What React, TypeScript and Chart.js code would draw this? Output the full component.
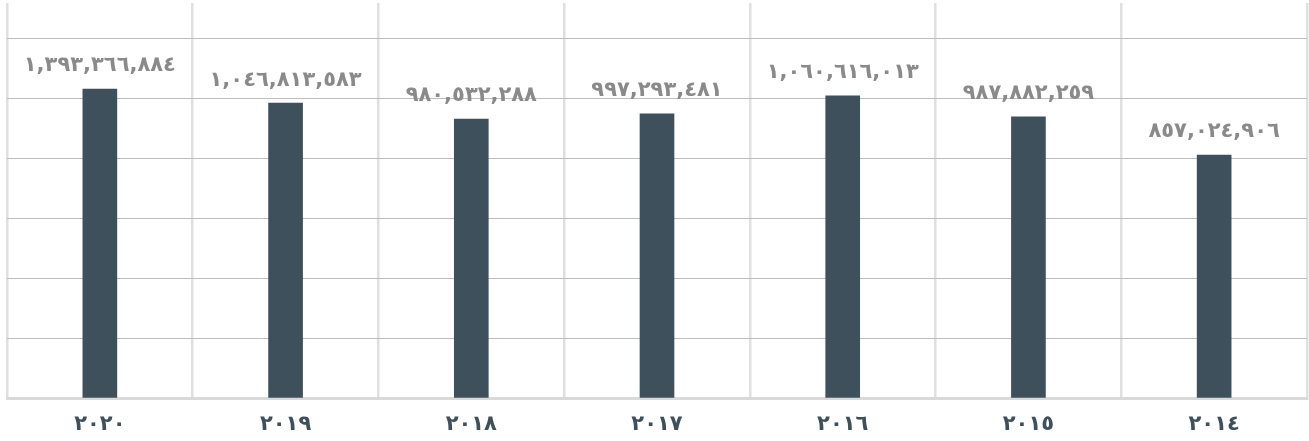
import React, { useEffect, useRef } from "react";
import { Chart, registerables } from "chart.js";

Chart.register(...registerables);

// chronological order; the x axis is reversed (right-to-left)
const years = ["٢٠١٤", "٢٠١٥", "٢٠١٦", "٢٠١٧", "٢٠١٨", "٢٠١٩", "٢٠٢٠"];
// bar heights (gridline step = 200)
const barValues = [810, 937, 1007, 947, 930, 983, 1030];
// value labels printed above the bars
const valueLabels = [
  "٨٥٧,٠٢٤,٩٠٦",
  "٩٨٧,٨٨٢,٢٥٩",
  "١,٠٦٠,٦١٦,٠١٣",
  "٩٩٧,٢٩٣,٤٨١",
  "٩٨٠,٥٣٢,٢٨٨",
  "١,٠٤٦,٨١٣,٥٨٣",
  "١,٣٩٣,٣٦٦,٨٨٤",
];
const yStep = 200;
const yMax = 1316.7;

const FONT = "'DejaVu Sans', sans-serif";

const valueLabelPlugin = {
  id: "valueLabels",
  afterDatasetsDraw(chart: any) {
    const ctx = chart.ctx;
    const meta = chart.getDatasetMeta(0);
    ctx.save();
    ctx.font = `bold 21px ${FONT}`;
    ctx.fillStyle = "#8a8a8a";
    ctx.textAlign = "center";
    ctx.textBaseline = "middle";
    meta.data.forEach((bar: any, i: number) => {
      ctx.fillText(valueLabels[i], bar.x, bar.y - 23);
    });
    ctx.restore();
  },
};

export default function App() {
  const ref = useRef<HTMLCanvasElement | null>(null);

  useEffect(() => {
    document.body.style.margin = "0";
    if (!ref.current) return;
    const chart = new Chart(ref.current, {
      type: "bar",
      data: {
        labels: years,
        datasets: [
          {
            data: barValues,
            backgroundColor: "#3e505b",
            barThickness: 34,
          },
        ],
      },
      options: {
        animation: false,
        responsive: false,
        layout: { padding: { top: 3, left: 7, right: 2, bottom: 0 } },
        plugins: {
          legend: { display: false },
          tooltip: { enabled: false },
        },
        scales: {
          x: {
            reverse: true,
            offset: true,
            grid: {
              offset: true,
              color: "#e0e0e0",
              lineWidth: 2.5,
              drawTicks: false,
            },
            border: { color: "#d9d9d9", width: 3 },
            ticks: {
              color: "#3e505b",
              font: { family: FONT, size: 21, weight: "bold" },
              padding: 14,
            },
            afterFit(scale: any) {
              scale.height = 43;
            },
          },
          y: {
            min: 0,
            max: yMax,
            ticks: { display: false, stepSize: yStep },
            grid: {
              drawTicks: false,
              lineWidth: 1,
              color: (c: any) =>
                c.tick && c.tick.value > 1250 ? "rgba(0,0,0,0)" : "#bdbdbd",
            },
            border: { display: false },
          },
        },
      },
      plugins: [valueLabelPlugin],
    });
    return () => chart.destroy();
  }, []);

  return (
    <div style={{ width: 1309, height: 441 }}>
      <canvas ref={ref} width={1309} height={441} />
    </div>
  );
}
